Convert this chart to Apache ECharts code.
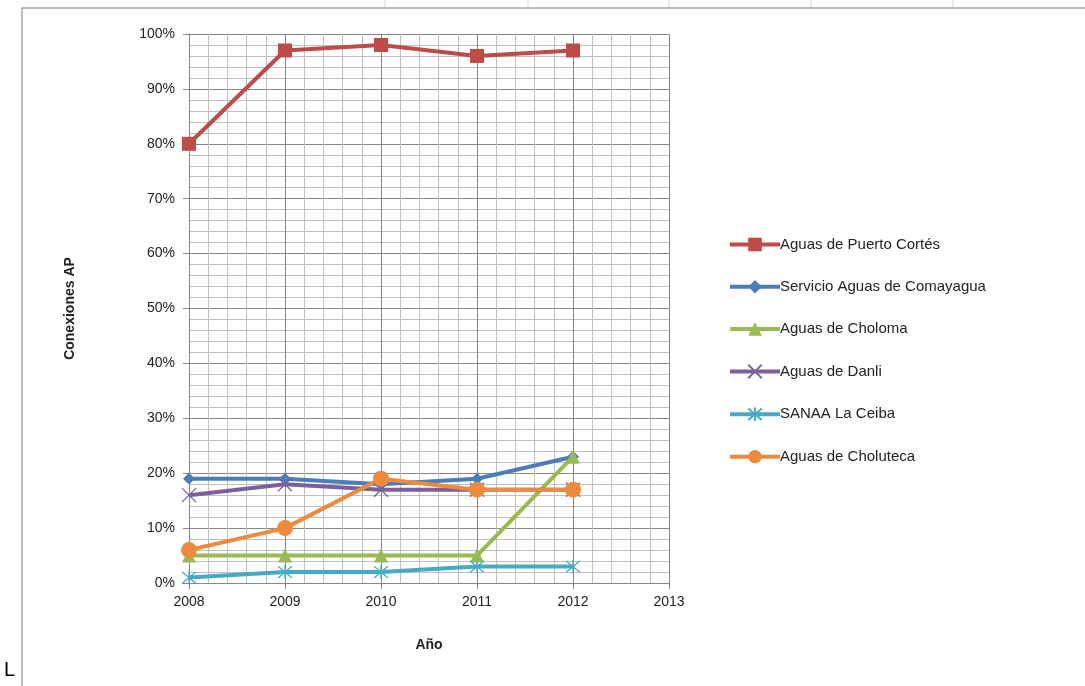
<!DOCTYPE html>
<html><head><meta charset="utf-8">
<script src="https://cdn.jsdelivr.net/npm/echarts@6/dist/echarts.min.js"></script>
<style>html,body{margin:0;padding:0;background:#fff}#c{width:1085px;height:686px}</style>
</head><body><div id="c"></div>
<script>
const years = [2008, 2009, 2010, 2011, 2012];
const seriesNames = ["Aguas de Puerto Cortés","Servicio Aguas de Comayagua","Aguas de Choloma","Aguas de Danli","SANAA La Ceiba","Aguas de Choluteca"];
const puertoCortes = [80, 97, 98, 96, 97];
const comayagua = [19, 19, 18, 19, 23];
const choloma = [5, 5, 5, 5, 23];
const danli = [16, 18, 17, 17, 17];
const laCeiba = [1, 2, 2, 3, 3];
const choluteca = [6, 10, 19, 17, 17];
const yTicks = [0,10,20,30,40,50,60,70,80,90,100];

const colors = ["#BE4B48","#4A7EBB","#98B954","#7D5FA0","#46AAC5","#EE8A3C"];
const values = [puertoCortes, comayagua, choloma, danli, laCeiba, choluteca];
const symbols = ['rect','diamond','triangle',
  'path://M0,0 L10,10 M10,0 L0,10',
  'path://M5,0 L5,10 M0.8,0.8 L9.2,9.2 M9.2,0.8 L0.8,9.2',
  'circle'];
const sizes = [14, 12, 14, 14, 14, 16];
const font = "'Liberation Sans', Arial, sans-serif";

const series = values.map((v, i) => {
  const stroked = i === 3 || i === 4;
  return {
    name: seriesNames[i], type: 'line',
    data: years.map((y, k) => [y, v[k]]),
    symbol: symbols[i], symbolSize: sizes[i], showSymbol: true,
    lineStyle: { color: colors[i], width: 4 },
    itemStyle: stroked ? { color: 'rgba(0,0,0,0)', borderColor: colors[i], borderWidth: 1.3 } : { color: colors[i], borderWidth: 0 },
    emphasis: { disabled: true }
  };
});

const chart = echarts.init(document.getElementById('c'));
chart.setOption({
  animation: false,
  backgroundColor: '#fff',
  graphic: [
    { type: 'rect', shape: { x: 22, y: 8, width: 1100, height: 700 }, style: { fill: 'none', stroke: '#A6A6A6', lineWidth: 1.5 }, silent: true },
    ...[385, 528, 669, 811, 953].map(x => ({ type: 'line', shape: { x1: x, y1: 0, x2: x, y2: 7 }, style: { stroke: '#D4D4D4', lineWidth: 1 }, silent: true })),
    { type: 'text', left: 4, top: 660, style: { text: 'L', font: "20px " + font, fill: '#000' }, silent: true }
  ],
  grid: { left: 189, right: 416, top: 34, bottom: 103 },
  legend: {
    orient: 'vertical', left: 723, top: 232,
    itemWidth: 50, itemHeight: 17, itemGap: 27.2,
    lineStyle: { width: 4 },
    textStyle: { fontFamily: font, fontSize: 15, color: '#222', padding: [0,0,0,-5] },
    data: seriesNames
  },
  xAxis: {
    type: 'value', min: 2008, max: 2013, interval: 1,
    name: 'Año', nameLocation: 'middle', nameGap: 55,
    nameTextStyle: { fontFamily: font, fontSize: 14, fontWeight: 'bold', color: '#222' },
    axisLine: { show: true, lineStyle: { color: '#868686', width: 1 } },
    axisTick: { show: true, length: 6, lineStyle: { color: '#868686' } },
    axisLabel: { fontFamily: font, fontSize: 14, color: '#222', margin: 12, formatter: v => String(v) },
    splitLine: { show: true, lineStyle: { color: '#868686', width: 1 } },
    minorTick: { show: false, splitNumber: 5 },
    minorSplitLine: { show: true, lineStyle: { color: '#BFBFBF', width: 1 } }
  },
  yAxis: {
    type: 'value', min: 0, max: 100, interval: 10,
    name: 'Conexiones AP', nameLocation: 'middle', nameGap: 112, nameRotate: 90,
    nameTextStyle: { fontFamily: font, fontSize: 14, fontWeight: 'bold', color: '#222' },
    axisLine: { show: true, lineStyle: { color: '#868686', width: 1 } },
    axisTick: { show: true, length: 6, lineStyle: { color: '#868686' } },
    axisLabel: { fontFamily: font, fontSize: 14, color: '#222', margin: 14, formatter: v => yTicks.includes(v) ? v + '%' : '' },
    splitLine: { show: true, lineStyle: { color: '#868686', width: 1 } },
    minorTick: { show: false, splitNumber: 5 },
    minorSplitLine: { show: true, lineStyle: { color: '#BFBFBF', width: 1 } }
  },
  series
});
</script></body></html>
